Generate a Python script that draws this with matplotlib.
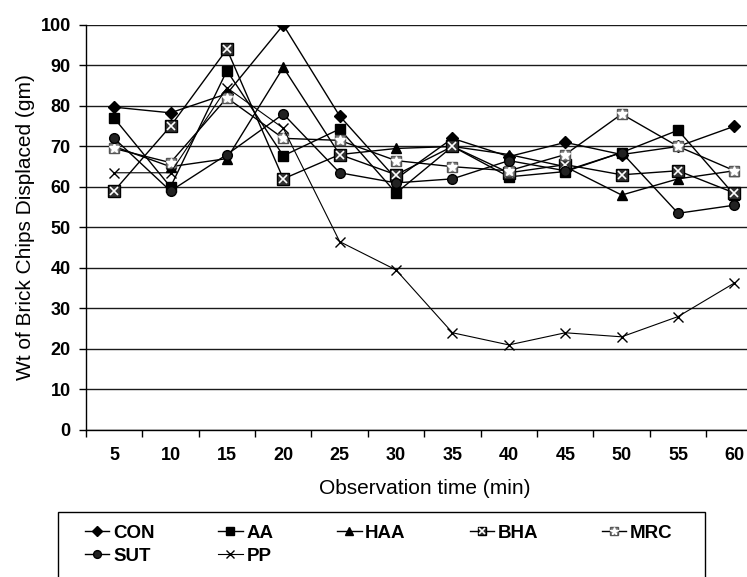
import matplotlib
matplotlib.use("Agg")
import matplotlib.pyplot as plt
from matplotlib.patches import Rectangle
from matplotlib.legend_handler import HandlerTuple
import numpy as np

plt.rcParams['font.family'] = ['Liberation Sans', 'DejaVu Sans']

# Observation times (min)
times = [5, 10, 15, 20, 25, 30, 35, 40, 45, 50, 55, 60]

# Weight of brick chips displaced (gm)
con = [79.7, 78.3, 83, 100, 77.5, 62, 72, 67.5, 71, 68, 70, 75]
aa = [77, 60, 88.7, 67.7, 74.3, 58.5, 70, 62.5, 63.8, 68.5, 74, 58]
haa = [70, 65, 67, 89.5, 68, 69.5, 70, 68, 65, 58, 62, 64]
bha = [59, 75, 94, 62, 68, 63, 70, 63.5, 65.5, 63, 64, 58.5]
mrc = [69.5, 66, 82, 72, 71.5, 66.5, 65, 64, 68, 78, 70, 64]
sut = [72, 59, 68, 78, 63.5, 61, 62, 66.5, 64, 68.5, 53.5, 55.5]
pp = [63.5, 63.5, 84.5, 74.5, 46.5, 39.5, 24, 21, 24, 23, 28, 36.3]

x = np.arange(1, len(times) + 1)

fig = plt.figure(figsize=(7.47, 5.77), dpi=100)
ax = fig.add_axes([0.115, 0.2548, 0.906, 0.702])

# Horizontal gridlines
ax.set_ylim(0, 100)
ax.set_yticks(np.arange(0, 101, 10))
ax.yaxis.grid(True, color='#1a1a1a', linewidth=1)
ax.set_axisbelow(True)

lw = 1.0
h_con, = ax.plot(x, con, color='black', lw=lw, marker='D', ms=6)
h_aa, = ax.plot(x, aa, color='black', lw=lw, marker='s', ms=7)
h_haa, = ax.plot(x, haa, color='black', lw=lw, marker='^', ms=7)
h_bha, = ax.plot(x, bha, color='black', lw=lw, marker='s', ms=8,
                 mfc='#333333', mec='black')
h_bha2, = ax.plot(x, bha, ls='none', marker='x', ms=6, mec='white', mew=1.2)
h_mrc, = ax.plot(x, mrc, color='black', lw=lw, marker='s', ms=7,
                 mfc='#888888', mec='#555555')
h_mrc2, = ax.plot(x, mrc, ls='none', marker='*', ms=7, mfc='white', mec='white')
h_sut, = ax.plot(x, sut, color='black', lw=lw, marker='o', ms=7,
                 mfc='#222222', mec='black')
h_pp, = ax.plot(x, pp, color='black', lw=0.8, marker='x', ms=7, mew=1)

# Category axis: labels at centres, tick marks between categories
ax.set_xlim(0.5, len(times) + 0.5)
ax.set_xticks(x)
ax.set_xticklabels([str(t) for t in times], fontsize=13, fontweight='bold')
ax.set_xticks(np.arange(0.5, len(times) + 1, 1), minor=True)
ax.tick_params(axis='x', which='major', length=0, pad=12)
ax.tick_params(axis='x', which='minor', length=5, direction='out', width=1)
ax.tick_params(axis='y', length=5, direction='out', width=1, pad=6,
               labelsize=13)
for lab in ax.get_yticklabels():
    lab.set_fontweight('bold')

for side in ['top', 'right']:
    ax.spines[side].set_visible(False)
ax.spines['left'].set_linewidth(1)
ax.spines['bottom'].set_linewidth(1)

ax.set_xlabel('Observation time (min)', fontsize=15, labelpad=11)
ax.set_ylabel('Wt of Brick Chips Displaced (gm)', fontsize=15, labelpad=4)

# Legend box (extends beyond the bottom edge, as in the original)
fig.patches.append(Rectangle((58 / 747, -0.05), (705 - 58) / 747,
                             (577 - 512) / 577 + 0.05,
                             transform=fig.transFigure, fill=False,
                             edgecolor='black', lw=1))
# column-major order so rows read CON AA HAA BHA MRC / SUT PP
handles = [h_con, h_sut, h_aa, h_pp, h_haa, (h_bha, h_bha2),
           (h_mrc, h_mrc2)]
labels = ['CON', 'SUT', 'AA', 'PP', 'HAA', 'BHA', 'MRC']
leg = fig.legend(handles, labels, ncol=5, loc='upper left',
                 bbox_to_anchor=(68 / 747, 1 - 508 / 577), frameon=False,
                 handlelength=1.3, handletextpad=0.2, columnspacing=3.4,
                 labelspacing=0.3, markerscale=0.8,
                 handler_map={tuple: HandlerTuple(ndivide=1, pad=0)},
                 prop={'size': 13.5, 'weight': 'bold'})

fig.savefig('out.png', dpi=100)
